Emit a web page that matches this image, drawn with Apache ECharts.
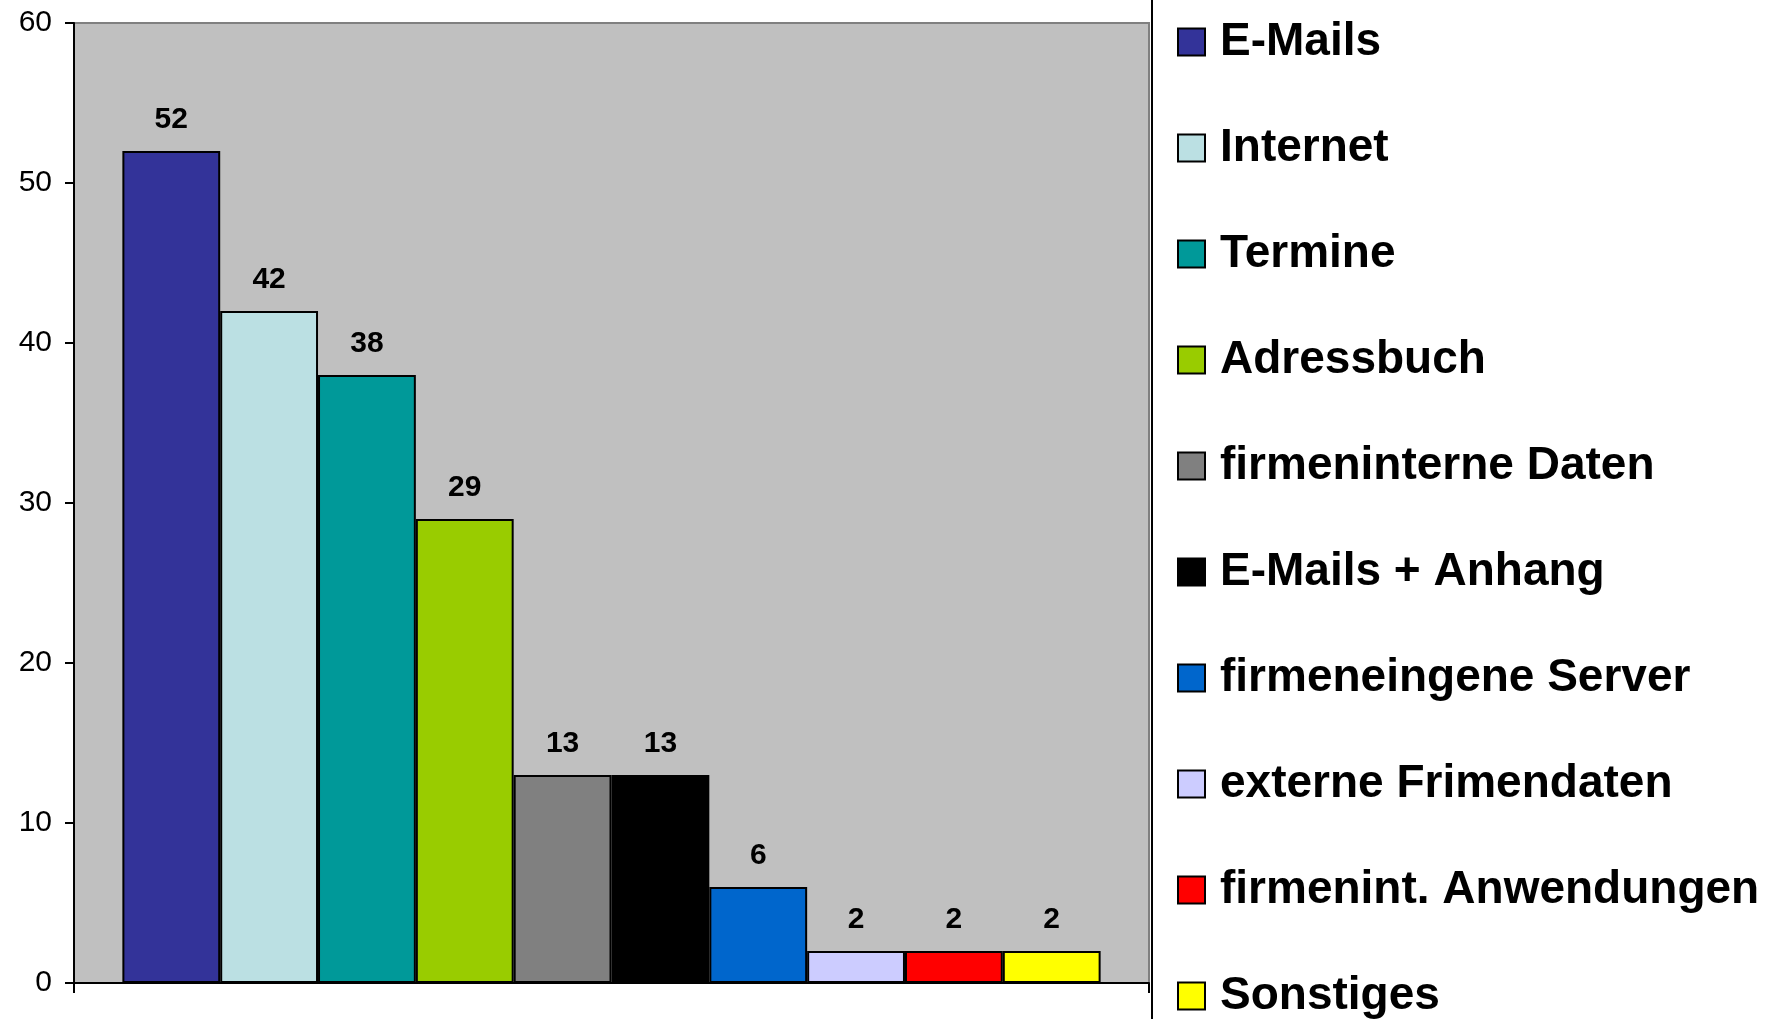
<!DOCTYPE html>
<html>
<head>
<meta charset="utf-8">
<script src="https://cdn.jsdelivr.net/npm/echarts@6/dist/echarts.min.js"></script>
<style>
  html, body { margin: 0; padding: 0; background: #ffffff; }
  #chart { width: 1771px; height: 1019px; }
</style>
</head>
<body>
<div id="chart"></div>
<script>
// Nutzung mobiler Geräte: Anzahl Nennungen je Anwendung
const names = [
  'E-Mails', 'Internet', 'Termine', 'Adressbuch', 'firmeninterne Daten',
  'E-Mails + Anhang', 'firmeneingene Server', 'externe Frimendaten',
  'firmenint. Anwendungen', 'Sonstiges'
];
const values = [52, 42, 38, 29, 13, 13, 6, 2, 2, 2];
const colors = [
  '#333399', '#BBE0E3', '#009999', '#99CC00', '#808080',
  '#000000', '#0066CC', '#CCCCFF', '#FF0000', '#FFFF00'
];
const yTicks = { min: 0, max: 60, step: 10 };

const FONT = "'Liberation Sans', Arial, sans-serif";

const series = names.map((n, i) => ({
  name: n,
  type: 'bar',
  data: [values[i]],
  barGap: '0%',
  barCategoryGap: '9%',
  itemStyle: { color: colors[i], borderColor: '#000000', borderWidth: 2 },
  label: {
    show: true,
    position: 'top',
    distance: 16.5,
    color: '#000000',
    fontFamily: FONT,
    fontWeight: 'bold',
    fontSize: 30
  }
}));

const chart = echarts.init(document.getElementById('chart'), null, { renderer: 'canvas' });
chart.setOption({
  animation: false,
  backgroundColor: '#ffffff',
  grid: {
    left: 74, right: 622, top: 23, bottom: 36,
    show: true,
    backgroundColor: '#C0C0C0',
    borderColor: '#808080',
    borderWidth: 2
  },
  xAxis: {
    type: 'category',
    data: [''],
    axisLine: { show: true, onZero: false, lineStyle: { color: '#000000', width: 2 } },
    axisTick: { show: true, length: 10, lineStyle: { color: '#000000', width: 2 } },
    axisLabel: { show: false }
  },
  yAxis: {
    type: 'value',
    min: yTicks.min,
    max: yTicks.max,
    interval: yTicks.step,
    splitLine: { show: false },
    axisLine: { show: true, lineStyle: { color: '#000000', width: 2 } },
    axisTick: { show: true, length: 9, lineStyle: { color: '#000000', width: 2 } },
    axisLabel: {
      margin: 22,
      color: '#000000',
      fontFamily: FONT,
      fontSize: 30
    }
  },
  legend: {
    orient: 'vertical',
    left: 1152,
    top: -33,
    height: 1100,
    padding: [50, 60, 80, 25],
    borderColor: '#000000',
    borderWidth: 2,
    itemWidth: 27,
    itemHeight: 27,
    itemGap: 56,
    icon: 'rect',
    selectedMode: false,
    textStyle: {
      color: '#000000',
      fontFamily: FONT,
      fontWeight: 'bold',
      fontSize: 46,
      lineHeight: 50,
      padding: [0, 0, 0, 10]
    },
    data: names
  },
  series: series
});
</script>
</body>
</html>
